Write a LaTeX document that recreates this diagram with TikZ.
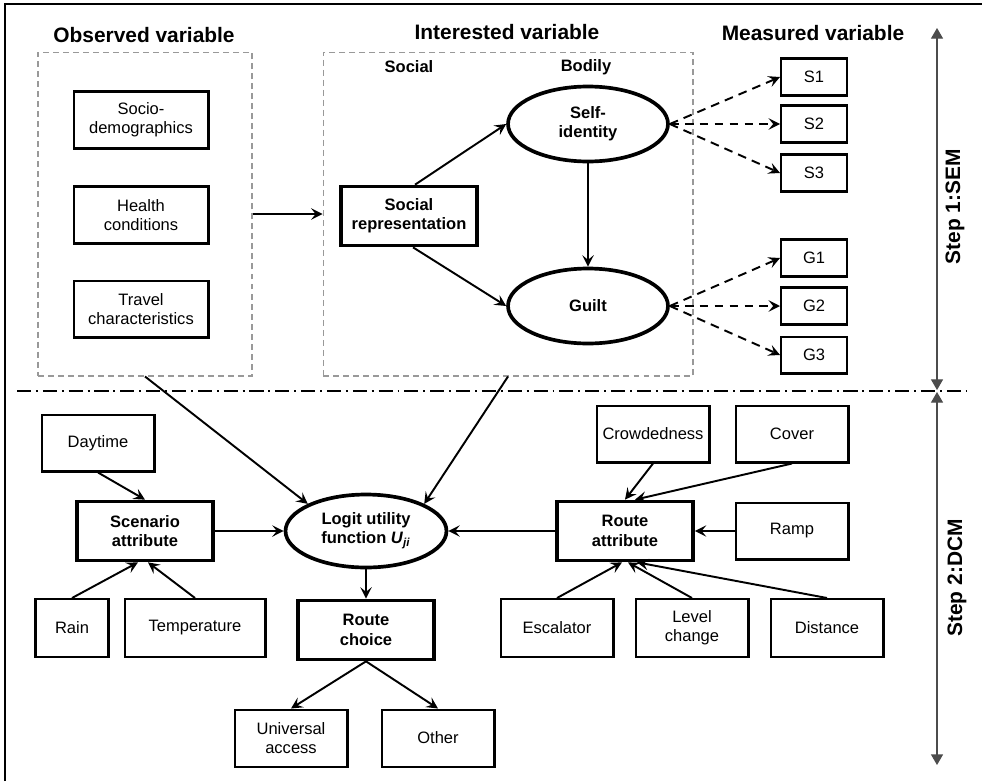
\documentclass[tikz,border=0pt]{standalone}
\usepackage{fontspec}
\setmainfont{Liberation Sans}
\usetikzlibrary{arrows.meta,shapes.geometric}

\begin{document}
\begin{tikzpicture}[x = 0.02cm, y = -0.02cm, line width = 1.1pt,
    >= {Stealth[length = 6.5pt, width = 6.5pt, inset = 2.6pt]},
    txt/.style = {font = \fontsize{9.4}{11}\selectfont},
    box/.style = {rectangle, draw, txt, align = center, line width = 1.15pt, inner sep = 1pt, minimum width = 2.26cm, minimum height = 1.14cm},
    bbox/.style = {box, line width = 2.1pt, font = \fontsize{9.4}{11}\selectfont\bfseries, minimum width = 2.72cm, minimum height = 1.18cm},
    oval/.style = {ellipse, draw, align = center, line width = 2.1pt, inner sep = 1pt, font = \fontsize{9.4}{11}\selectfont\bfseries, minimum width = 3.2cm, minimum height = 1.5cm},
    mbox/.style = {box, minimum width = 1.32cm, minimum height = 0.74cm},
    groupbox/.style = {draw = gray!80, line width = 0.6pt, dash pattern = on 3.4pt off 2.3pt, inner sep = 0pt},
    headtext/.style = {font = \fontsize{11.9}{14}\selectfont\bfseries},
    subtext/.style = {font = \fontsize{9.4}{11}\selectfont\bfseries},
    dashedarrow/.style = {->, dash pattern = on 5pt off 3.5pt},
    stepline/.style = {{Triangle[length = 6pt, width = 6.8pt]}-{Triangle[length = 6pt, width = 6.8pt]}, draw = black!70, line width = 0.6pt}]
\useasboundingbox (0,0) rectangle (982,781);
\draw [line width = 1.3pt] (5,781) -- (5,4) -- (982,4);
\draw (144,35) node[headtext](h1){Observed variable}
    (507,32) node[headtext](h2){Interested variable}
    (813,33) node[headtext](h3){Measured variable}
    (409,67) node[subtext](l1){Social}
    (586,67) node[subtext](l2){Bodily};
\draw (145,214) node[groupbox, minimum width = 4.28cm, minimum height = 6.48cm](obs){}
    (508,214) node[groupbox, minimum width = 7.4cm, minimum height = 6.48cm](int){};
\draw (141,120) node[box, minimum width = 2.7cm](o1){Socio-\\demographics}
    (141,215) node[box, minimum width = 2.7cm](o2){Health\\conditions}
    (141,309) node[box, minimum width = 2.7cm](o3){Travel\\characteristics};
\draw (409,216) node[bbox](sr){Social\\representation}
    (588,124) node[oval](si){Self-\\identity}
    (588,306) node[oval](gu){Guilt};
\draw (814,77) node[mbox](s1){S1}
    (814,124) node[mbox](s2){S2}
    (814,173) node[mbox](s3){S3}
    (814,258) node[mbox](g1){G1}
    (814,306) node[mbox](g2){G2}
    (814,355) node[mbox](g3){G3};
\draw (98,443) node[box](d1){Daytime}
    (145,531) node[bbox](sa){Scenario\\attribute}
    (72,628) node[box, minimum width = 1.46cm, minimum height = 1.16cm](d2){Rain}
    (195,628) node[box, minimum width = 2.82cm, minimum height = 1.16cm](d3){Temperature}
    (366,531) node[oval, minimum width = 3.22cm, minimum height = 1.46cm](lu){Logit utility\\function \textit{U}\textsubscript{\textit{ji}}}
    (366,630) node[bbox](rc){Route\\choice}
    (291,738) node[box](c1){Universal\\access}
    (438,738) node[box](c2){Other}
    (625,531) node[bbox](ra){Route\\attribute}
    (653,434) node[box](r1){Crowdedness}
    (792,434) node[box](r2){Cover}
    (792,531) node[box](r3){Ramp}
    (557,628) node[box, minimum height = 1.16cm](r4){Escalator}
    (692,628) node[box, minimum height = 1.16cm](r5){Level\\change}
    (827,628) node[box, minimum height = 1.16cm](r6){Distance};
\draw [->] (obs.east) -- (int.west);
\draw [->] ([xshift = 0.12cm]sr.north) -- (si.west);
\draw [->] ([xshift = 0.08cm]sr.south) -- (gu.west);
\draw [->] (si) -- (gu);
\draw [dashedarrow] (si.east) -- (s1.west);
\draw [dashedarrow] (si.east) -- (s2.west);
\draw [dashedarrow] (si.east) -- (s3.west);
\draw [dashedarrow] (gu.east) -- (g1.west);
\draw [dashedarrow] (gu.east) -- (g2.west);
\draw [dashedarrow] (gu.east) -- (g3.west);
\draw [->] (obs.south) -- (lu.north west);
\draw [->] (int.south) -- (lu.north east);
\draw [->] (d1.south) -- (sa.north);
\draw [->] (d2.north) -- ([xshift = -0.14cm]sa.south);
\draw [->] (d3.north) -- ([xshift = 0.06cm]sa.south);
\draw [->] (sa) -- (lu);
\draw [->] (ra) -- (lu);
\draw [->] (lu) -- (rc);
\draw [->] (rc.south) -- (c1.north);
\draw [->] (rc.south) -- (c2.north);
\draw [->] (r1.south) -- (ra.north);
\draw [->] (r2.south) -- ([xshift = 0.2cm]ra.north);
\draw [->] (r3) -- (ra);
\draw [->] (r4.north) -- ([xshift = -0.06cm]ra.south);
\draw [->] (r5.north) -- ([xshift = 0.06cm]ra.south);
\draw [->] (r6.north) -- ([xshift = 0.24cm]ra.south);
\draw [line width = 1.3pt, dash pattern = on 8pt off 2.8pt on 1.1pt off 2.8pt] (17,391) -- (967,391);
\coordinate (t1) at (937,28);
\coordinate (t2) at (937,390);
\coordinate (t3) at (937,392);
\coordinate (t4) at (937,765);
\draw [stepline] (t1) -- (t2);
\draw [stepline] (t3) -- (t4);
\draw (955,207) node[headtext, rotate = 90](st1){Step 1:SEM}
    (957,578) node[headtext, rotate = 90](st2){Step 2:DCM};
\end{tikzpicture}
\end{document}
